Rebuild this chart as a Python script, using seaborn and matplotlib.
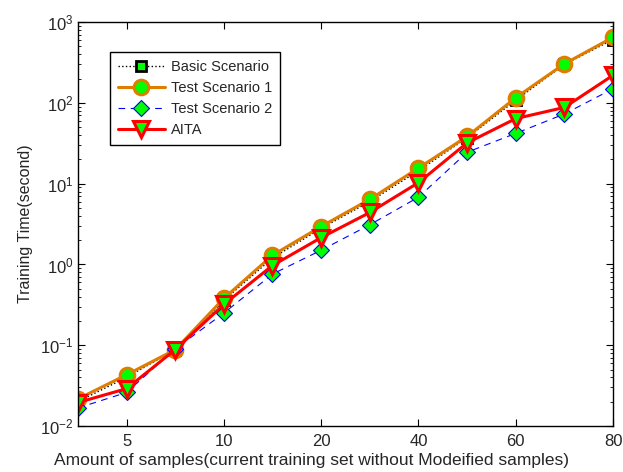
import numpy as np
import pandas as pd
import matplotlib
matplotlib.use("Agg")
import matplotlib.pyplot as plt
import seaborn as sns

# ---- data ----
x_pos = list(range(12))
tick_idx = [1, 3, 5, 7, 9, 11]
tick_labels = ["5", "10", "20", "40", "60", "80"]

basic = [0.020, 0.040, 0.088, 0.36, 1.20, 2.80, 6.0, 14.5, 37.0, 108, 300, 610]
test1 = [0.0216, 0.043, 0.088, 0.38, 1.30, 2.95, 6.4, 15.6, 38.5, 116, 305, 650]
test2 = [0.0167, 0.026, 0.090, 0.25, 0.76, 1.50, 3.1, 6.8, 24.5, 42, 73, 150]
aita  = [0.0195, 0.029, 0.088, 0.32, 0.97, 2.15, 4.4, 10.3, 32.0, 64, 88, 220]

ORANGE = "#DE7D00"
GREEN  = "#00FF00"

sns.set_style("ticks")
plt.rcParams["font.family"] = ["Liberation Sans", "DejaVu Sans"]
plt.rcParams["mathtext.fontset"] = "custom"
plt.rcParams["mathtext.rm"] = "Liberation Sans"

fig = plt.figure(figsize=(6.23, 4.72), dpi=100)
ax = fig.add_axes([0.125, 0.0975, 0.859, 0.8555])

series = [
    ("Basic Scenario", basic, dict(color="black", linestyle=":", linewidth=1.0,
                                   marker="s", markersize=7, markerfacecolor=GREEN,
                                   markeredgecolor="black", markeredgewidth=2.0)),
    ("Test Scenario 1", test1, dict(color=ORANGE, linestyle="-", linewidth=2.2,
                                    marker="o", markersize=10.5, markerfacecolor=GREEN,
                                    markeredgecolor=ORANGE, markeredgewidth=2.2)),
    ("Test Scenario 2", test2, dict(color="blue", linestyle=(0, (6, 5)), linewidth=0.8,
                                    marker="D", markersize=8, markerfacecolor=GREEN,
                                    markeredgecolor="blue", markeredgewidth=0.8)),
    ("AITA", aita, dict(color="red", linestyle="-", linewidth=2.2,
                        marker="v", markersize=11.5, markerfacecolor=GREEN,
                        markeredgecolor="red", markeredgewidth=2.2)),
]

for name, vals, style in series:
    df = pd.DataFrame({"x": x_pos, "y": vals})
    sns.lineplot(data=df, x="x", y="y", label=name, ax=ax, **style)

ax.set_yscale("log")
ax.set_ylim(1e-2, 1e3)
ax.set_xlim(0, 11)
ax.set_xticks(tick_idx)
ax.set_xticklabels(tick_labels)

ax.tick_params(which="both", direction="in", top=True, right=True, labelsize=12,
               color="black")
ax.tick_params(which="major", length=5, width=0.8)
ax.tick_params(which="minor", length=2.5, width=0.6)
ax.tick_params(axis="x", which="minor", bottom=False, top=False)
ax.tick_params(axis="x", pad=6)
ax.tick_params(axis="y", pad=3)
for sp in ax.spines.values():
    sp.set_visible(True)
    sp.set_color("black")
    sp.set_linewidth(1.0)

ax.set_xlabel("Amount of samples(current training set without Modeified samples)",
              fontsize=12.5)
ax.xaxis.set_label_coords(0.436, -0.066)
ax.set_ylabel("Training Time(second)", fontsize=11.5, labelpad=5)

leg = ax.legend(loc="upper left", bbox_to_anchor=(0.06, 0.926), borderaxespad=0,
                fontsize=10.5, handlelength=3.2, frameon=True, fancybox=False,
                edgecolor="black", framealpha=1, borderpad=0.55, labelspacing=0.48,
                handletextpad=0.4)
leg.get_frame().set_linewidth(1.0)

fig.savefig("out.png", dpi=100)
